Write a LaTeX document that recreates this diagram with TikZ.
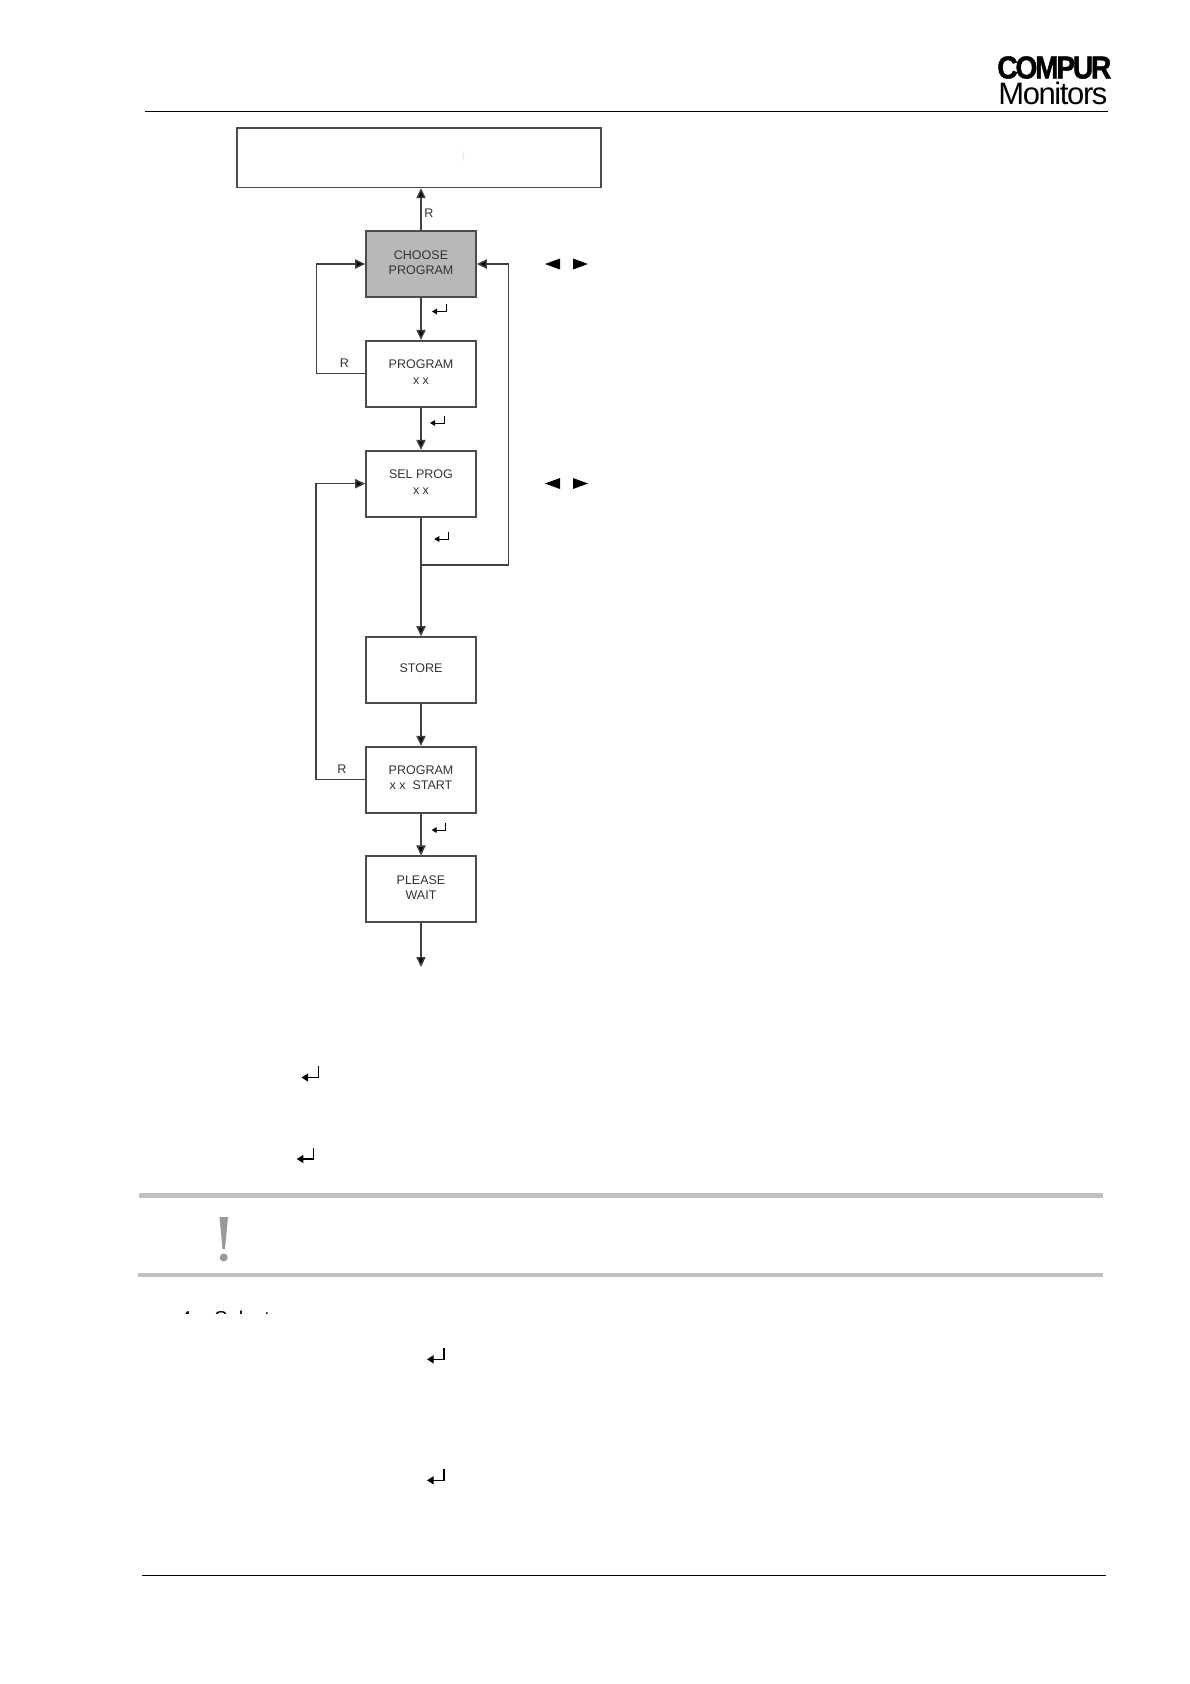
\documentclass[tikz,border=0pt]{standalone}
\usepackage{fontspec}
\setmainfont{Liberation Sans}
\usetikzlibrary{arrows.meta}
\tikzset{
 flowbox/.style={draw=black!70,line width=1pt,minimum width=66pt,minimum height=39.6pt,inner sep=0pt,align=center,font=\fontsize{7.5}{9}\selectfont,text=black!80,text depth=2pt},
 conn/.style={draw=black!75,line width=.85pt,-{Triangle[length=6pt,width=5.5pt,fill=black]}},
 lab/.style={font=\fontsize{7.5}{9}\selectfont,text=black!80,inner sep=0pt},
 rule/.style={draw=black,line width=.6pt},
 greybar/.style={draw=black!25,line width=2.5pt},
 ret/.pic={\draw[black,line width=.55pt,-{Triangle[length=3pt,width=3.4pt]}] (0,-7.5) -- (0,0) -- (-14,0);},
 bigret/.pic={\draw[black,line width=.8pt,-{Triangle[length=4pt,width=4.8pt]}] (0,-11.5) -- (0,0) -- (-17,0);},
 tri/.style={fill=black,draw=none}
}
\begin{document}
\begin{tikzpicture}[x=.6pt,y=-.6pt]
\useasboundingbox (0,0) rectangle (1190,1684);
\fill[white] (0,0) rectangle (1190,1684);
% header / footer
\coordinate (hl) at (145,111); \coordinate (hr) at (1108,111);
\draw[rule] (hl) -- (hr);
\coordinate (fl) at (142,1575); \coordinate (fr) at (1106,1575);
\draw[rule] (fl) -- (fr);
% logo
\node[inner sep=0pt,anchor=west] (logoA) at (997,67.5) {\scalebox{.89}[1]{\fontsize{19}{19}\selectfont\bfseries\addfontfeature{LetterSpace=-8,FakeBold=1.5}COMPUR}};
\node[inner sep=0pt,anchor=west] (logoB) at (998,93) {\fontsize{18.6}{19}\selectfont\addfontfeature{LetterSpace=-4.5}Monitors};
% boxes
\node[flowbox,minimum width=218.7pt,minimum height=35.8pt] (top) at (419,157.5) {};
\node[flowbox,fill=black!28] (choose) at (421,264) {CHOOSE\\PROGRAM};
\node[flowbox] (prog) at (421,373.7) {PROGRAM\\[.4pt]x x};
\node[flowbox] (sel) at (421,483.7) {SEL PROG\\[.4pt]x x};
\node[flowbox] (store) at (421,670) {STORE};
\node[flowbox] (start) at (421,779.7) {PROGRAM\\x x\ \ START};
\node[flowbox] (wait) at (421,889.3) {PLEASE\\WAIT};
% faint speck in the top box
\coordinate (sa) at (464,152); \coordinate (sb) at (463,160);
\draw[black!12,line width=.4pt] (sa) -- (sb);
% connectors
\coordinate (exit) at (421,967);
\coordinate (lu) at (316.7,264); \coordinate (ld) at (316.7,373.7);
\coordinate (mu) at (316,483.7); \coordinate (md) at (316,779.7);
\coordinate (rj) at (421,565); \coordinate (rb) at (508.7,565); \coordinate (rt) at (508.7,264);
\draw[conn] (choose.north) -- (choose.north |- top.south);
\draw[conn] (choose) -- (prog);
\draw[conn] (prog) -- (sel);
\draw[conn] (sel) -- (store);
\draw[conn] (store) -- (start);
\draw[conn] (start) -- (wait);
\draw[conn] (wait) -- (exit);
\draw[conn] (prog.west) -- (ld) -- (lu) -- (choose.west);
\draw[conn] (start.west) -- (md) -- (mu) -- (sel.west);
\draw[conn] (rj) -- (rb) -- (rt) -- (choose.east);
% labels
\node[lab] (r1) at (429,213) {R};
\node[lab] (r2) at (344.5,363.5) {R};
\node[lab] (r3) at (342,769.5) {R};
% return glyphs
\pic at (446,311.5) {ret};
\pic at (444,423) {ret};
\pic at (448.3,539) {ret};
\pic at (445.7,830) {ret};
\pic at (318.5,1077.5) {bigret};
\pic at (313.7,1159) {bigret};
\pic at (444,1359.3) {bigret};
\pic at (444,1480.3) {bigret};
% cursor triangles
\fill[tri] (545,264) -- (560,258.5) -- (560,269.5) -- cycle;
\fill[tri] (573,258.5) -- (588,264) -- (573,269.5) -- cycle;
\fill[tri] (545,483.5) -- (560,478) -- (560,489) -- cycle;
\fill[tri] (573,478) -- (588,483.5) -- (573,489) -- cycle;
% note bars
\coordinate (b1l) at (139,1195.5); \coordinate (b1r) at (1103,1195.5);
\coordinate (b2l) at (138,1275); \coordinate (b2r) at (1103,1275);
\draw[greybar] (b1l) -- (b1r);
\draw[greybar] (b2l) -- (b2r);
% exclamation
\fill[black!40] (219.5,1217) -- (228,1217) -- (225,1249) -- (222.5,1249) -- cycle;
\fill[black!40] (223.7,1257.5) circle[radius=4];
% clipped text
\begin{scope}
\clip (150,1290) rectangle (300,1313);
\node[inner sep=0pt,anchor=base west,font=\fontsize{12}{13}\selectfont] (clipped) at (180,1325) {4};
\node[inner sep=0pt,anchor=base west,font=\fontsize{12}{13}\selectfont] (clippedb) at (214,1325) {Select};
\end{scope}
\end{tikzpicture}
\end{document}
